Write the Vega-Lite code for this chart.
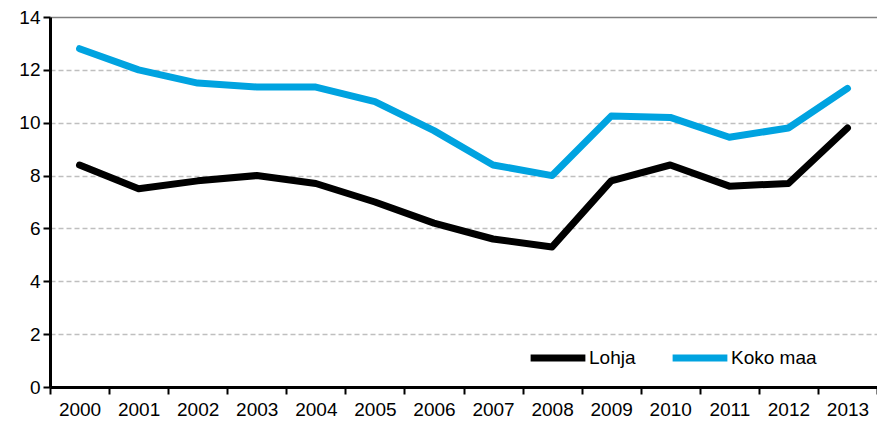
{
  "$schema": "https://vega.github.io/schema/vega-lite/v6.json",
  "width": 827,
  "height": 370,
  "autosize": "none",
  "padding": {"left": 50, "top": 17, "right": 0, "bottom": 39},
  "background": "white",
  "config": {
    "view": {"stroke": null},
    "font": "Liberation Sans",
    "axis": {"labelFont": "Liberation Sans", "labelFontSize": 19, "labelColor": "#000000"}
  },
  "data": {
    "values": [
      {"year": "2000", "series": "Lohja", "value": 8.4},
      {"year": "2001", "series": "Lohja", "value": 7.5},
      {"year": "2002", "series": "Lohja", "value": 7.8},
      {"year": "2003", "series": "Lohja", "value": 8.0},
      {"year": "2004", "series": "Lohja", "value": 7.7},
      {"year": "2005", "series": "Lohja", "value": 7.0},
      {"year": "2006", "series": "Lohja", "value": 6.2},
      {"year": "2007", "series": "Lohja", "value": 5.6},
      {"year": "2008", "series": "Lohja", "value": 5.3},
      {"year": "2009", "series": "Lohja", "value": 7.8},
      {"year": "2010", "series": "Lohja", "value": 8.4},
      {"year": "2011", "series": "Lohja", "value": 7.6},
      {"year": "2012", "series": "Lohja", "value": 7.7},
      {"year": "2013", "series": "Lohja", "value": 9.8},
      {"year": "2000", "series": "Koko maa", "value": 12.8},
      {"year": "2001", "series": "Koko maa", "value": 12.0},
      {"year": "2002", "series": "Koko maa", "value": 11.5},
      {"year": "2003", "series": "Koko maa", "value": 11.35},
      {"year": "2004", "series": "Koko maa", "value": 11.35},
      {"year": "2005", "series": "Koko maa", "value": 10.8},
      {"year": "2006", "series": "Koko maa", "value": 9.7},
      {"year": "2007", "series": "Koko maa", "value": 8.4},
      {"year": "2008", "series": "Koko maa", "value": 8.0},
      {"year": "2009", "series": "Koko maa", "value": 10.25},
      {"year": "2010", "series": "Koko maa", "value": 10.2},
      {"year": "2011", "series": "Koko maa", "value": 9.45},
      {"year": "2012", "series": "Koko maa", "value": 9.8},
      {"year": "2013", "series": "Koko maa", "value": 11.3}
    ]
  },
  "mark": {"type": "line", "strokeWidth": 7, "strokeCap": "round", "strokeJoin": "round"},
  "encoding": {
    "x": {
      "field": "year", "type": "ordinal", "title": null,
      "scale": {"paddingInner": 0, "paddingOuter": 0},
      "axis": {
        "labelAngle": 0, "tickBand": "extent", "domainColor": "#000000", "domainWidth": 3,
        "tickColor": "#000000", "tickWidth": 2, "tickSize": 7, "labelPadding": 6, "grid": false
      }
    },
    "y": {
      "field": "value", "type": "quantitative", "title": null,
      "scale": {"domain": [0, 14], "nice": false},
      "axis": {
        "values": [0, 2, 4, 6, 8, 10, 12, 14],
        "domainColor": "#000000", "domainWidth": 3,
        "tickColor": "#000000", "tickWidth": 2, "tickSize": 7, "labelPadding": 3,
        "grid": true,
        "gridColor": {"condition": {"test": "datum.value === 14", "value": "#808080"}, "value": "#BFBFBF"},
        "gridDash": {"condition": {"test": "datum.value === 14", "value": []}, "value": [5, 3]},
        "gridWidth": {"condition": {"test": "datum.value === 0", "value": 0}, "value": 1.5}
      }
    },
    "color": {
      "field": "series", "type": "nominal",
      "scale": {"domain": ["Lohja", "Koko maa"], "range": ["#000000", "#00A3E0"]},
      "legend": {
        "title": null, "orient": "none", "direction": "horizontal",
        "legendX": 477, "legendY": 310,
        "symbolType": "stroke", "symbolSize": 3000, "symbolStrokeWidth": 7,
        "labelFontSize": 19, "labelFont": "Liberation Sans", "labelColor": "#000000",
        "labelOffset": 0, "columnPadding": 22
      }
    }
  }
}
